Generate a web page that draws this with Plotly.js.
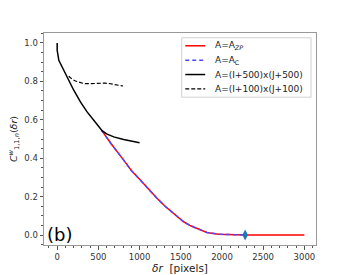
<!DOCTYPE html>
<html><head><meta charset="utf-8">
<script src="https://cdn.plot.ly/plotly-3.0.1.min.js"></script>
<style>body{margin:0;padding:0;background:#fff}#plot{width:352px;height:275px}</style>
</head><body><div id="plot"></div>
<script>
const zpX = [540, 650, 807, 900, 1009, 1110, 1211, 1310, 1413, 1534, 1620, 1696, 1817, 1958, 2100, 2281, 2500, 3000];
const zpY = [0.545, 0.478, 0.39, 0.336, 0.286, 0.237, 0.191, 0.15, 0.113, 0.069, 0.048, 0.033, 0.013, 0.004, 0.001, 0.0, 0.0, 0.0];
const cX = [540, 650, 807, 900, 1009, 1110, 1211, 1310, 1413, 1534, 1620, 1696, 1817, 1958, 2100, 2281];
const cY = [0.545, 0.478, 0.39, 0.336, 0.286, 0.237, 0.191, 0.15, 0.113, 0.069, 0.048, 0.033, 0.013, 0.004, 0.001, 0.0];
const s500X = [0, 0, 20, 80, 141, 201, 282, 363, 444, 525, 545, 600, 686, 807, 900, 1000];
const s500Y = [1.0, 0.962, 0.91, 0.858, 0.806, 0.754, 0.693, 0.641, 0.598, 0.552, 0.543, 0.527, 0.511, 0.497, 0.488, 0.481];
const s100X = [141, 180, 222, 270, 323, 380, 444, 525, 580, 626, 700, 767, 800];
const s100Y = [0.827, 0.812, 0.802, 0.794, 0.789, 0.788, 0.789, 0.792, 0.791, 0.789, 0.784, 0.779, 0.776];
const markX = [2281];
const markY = [0.0];
const xTicks = [0, 500, 1000, 1500, 2000, 2500, 3000];
const yTicks = [0.0, 0.2, 0.4, 0.6, 0.8, 1.0];
const seriesNames = ['A=A<sub><i>ZP</i></sub>', 'A=A<sub>C</sub>', 'A=(I+500)x(J+500)', 'A=(I+100)x(J+100)'];

const styles = [
  {color: '#ff0000', width: 1.5},
  {color: '#4a4aff', width: 1.5, dash: '4px,3px'},
  {color: '#000000', width: 1.5},
  {color: '#000000', width: 1.2, dash: '4px,2px'}
];
const xs = [zpX, cX, s500X, s100X];
const ys = [zpY, cY, s500Y, s100Y];
const traces = xs.map((x, i) => ({x: x, y: ys[i], mode: 'lines', name: seriesNames[i], line: styles[i], showlegend: false}));
traces.push({x: markX, y: markY, mode: 'markers', showlegend: false, marker: {symbol: 'diamond-tall', color: '#1f77b4', size: 8}});

// custom legend (compact, like matplotlib)
const L = {x0: 0.5064, x1: 0.9817, y0: 0.6971, y1: 0.9774, lx0: 0.5193, lx1: 0.5927, tx: 0.622, rows: [0.9397, 0.8714, 0.8041, 0.7367]};
const shapes = [{type: 'rect', xref: 'paper', yref: 'paper', x0: L.x0, x1: L.x1, y0: L.y0, y1: L.y1,
                 line: {color: '#d0d0d0', width: 1}, fillcolor: 'rgba(255,255,255,0.8)'}];
const annotations = [];
seriesNames.forEach((n, i) => {
  shapes.push({type: 'line', xref: 'paper', yref: 'paper', x0: L.lx0, x1: L.lx1, y0: L.rows[i], y1: L.rows[i],
               line: {color: styles[i].color, width: styles[i].width, dash: styles[i].dash || 'solid'}});
  annotations.push({xref: 'paper', yref: 'paper', x: L.tx, y: L.rows[i], xanchor: 'left', yanchor: 'middle',
                    text: n, showarrow: false, font: {size: 9, color: '#222'}});
});
annotations.push({xref: 'paper', yref: 'paper', x: 0.005, y: -0.01, xanchor: 'left', yanchor: 'bottom',
                  text: '(b)', showarrow: false, font: {size: 18, color: '#000'}});

const layout = {
  width: 352, height: 275,
  margin: {l: 43.5, r: 36, t: 32.7, b: 30},
  paper_bgcolor: '#fff', plot_bgcolor: '#fff',
  font: {family: 'DejaVu Sans', size: 8.5, color: '#333'},
  showlegend: false,
  xaxis: {range: [-160, 3141], tickvals: xTicks, ticktext: xTicks.map(String),
          ticks: 'outside', ticklen: 3.5, tickcolor: '#555', showgrid: false, zeroline: false,
          showline: true, linecolor: '#999', linewidth: 1, mirror: true, automargin: false,
          minor: {dtick: 100, tick0: 0, ticks: 'outside', ticklen: 2, tickcolor: '#555'},
          tickfont: {size: 8.5, color: '#333'},
          title: {text: '<i>δr</i>  [pixels]', font: {size: 10.5, color: '#222'}, standoff: 1}},
  yaxis: {range: [-0.052, 1.052], tickvals: yTicks, ticktext: yTicks.map(v => v.toFixed(1)),
          ticks: 'outside', ticklen: 3.5, tickcolor: '#555', showgrid: false, zeroline: false,
          showline: true, linecolor: '#999', linewidth: 1, mirror: true, automargin: false,
          minor: {dtick: 0.05, tick0: 0, ticks: 'outside', ticklen: 2, tickcolor: '#555'},
          tickfont: {size: 8.5, color: '#333'},
          title: {text: '<i>C</i><sup><i>w</i></sup><sub>1,1,<i>n</i></sub>(<i>δr</i>)', font: {size: 9.5, color: '#222'}, standoff: 4}},
  shapes: shapes,
  annotations: annotations
};
Plotly.newPlot('plot', traces, layout, {displayModeBar: false, staticPlot: true});
</script></body></html>
